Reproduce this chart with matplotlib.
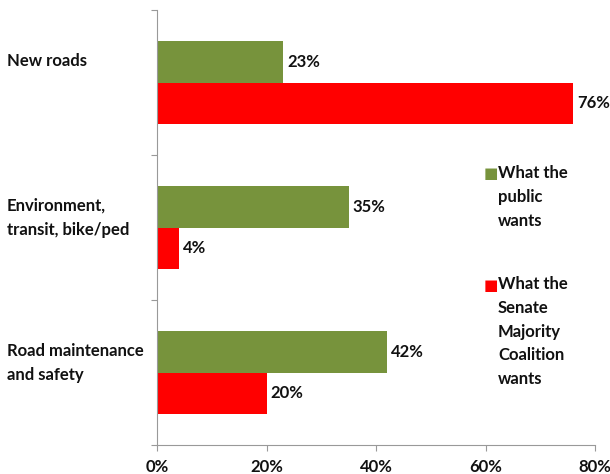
import numpy as np
import matplotlib
matplotlib.use("Agg")
import matplotlib.pyplot as plt
import matplotlib.transforms as mtransforms

categories = ["New roads", "Environment,\ntransit, bike/ped", "Road maintenance\nand safety"]
public = [23, 35, 42]
senate = [76, 4, 20]
series_names = ["What the\npublic\nwants", "What the\nSenate\nMajority\nCoalition\nwants"]
colors = ["#77933C", "#FF0000"]
xticks = [0, 20, 40, 60, 80]

plt.rcParams['font.family'] = ['Lato', 'DejaVu Sans']
plt.rcParams['font.weight'] = 'bold'
txt = "#111111"
fs = 12

fig = plt.figure(figsize=(6.10, 4.74), dpi=100)
ax = fig.add_axes([157/610, 1 - 445/474, 438/610, 435/474])

y = np.arange(len(categories))
h = 0.283
b1 = ax.barh(y - h/2, public, height=h, color=colors[0])
b2 = ax.barh(y + h/2, senate, height=h, color=colors[1])

for bars, vals in [(b1, public), (b2, senate)]:
    for bar, v in zip(bars, vals):
        ax.annotate(f"{v}%", (bar.get_width(), bar.get_y() + bar.get_height()/2),
                    xytext=(3, 0), textcoords="offset points", ha="left", va="center",
                    fontsize=fs, fontweight="bold", color=txt)

ax.set_xlim(0, 80)
ax.set_ylim(2.5, -0.5)
ax.set_xticks(xticks)
ax.set_xticklabels([f"{t}%" for t in xticks], fontsize=fs, fontweight="bold", color=txt)
ax.set_yticks([-0.5, 0.5, 1.5, 2.5])
ax.set_yticklabels([])
ax.tick_params(axis="x", direction="out", length=4, color="#999999", pad=6)
ax.tick_params(axis="y", direction="out", length=4, color="#999999")
for s in ["top", "right"]:
    ax.spines[s].set_visible(False)
for s in ["left", "bottom"]:
    ax.spines[s].set_color("#999999")

# category labels, first line a bit above the group centre
trans = mtransforms.blended_transform_factory(fig.transFigure, ax.transData)
for i, c in enumerate(categories):
    ax.text(7/610, i - 0.205, c, transform=trans, ha="left", va="top",
            fontsize=fs, fontweight="bold", color=txt, linespacing=1.6)

# legend drawn as text
leg_y = [174, 285]
for name, col, ly in zip(series_names, colors, leg_y):
    fig.text(484/610, 1 - ly/474, "\u25A0", color=col, fontsize=11, va="center", ha="left",
             family="DejaVu Sans")
    fig.text(498/610, 1 - (ly - 9)/474, name, color=txt, fontsize=fs, fontweight="bold",
             va="top", ha="left", linespacing=1.6)

fig.savefig("out.png", dpi=100)
